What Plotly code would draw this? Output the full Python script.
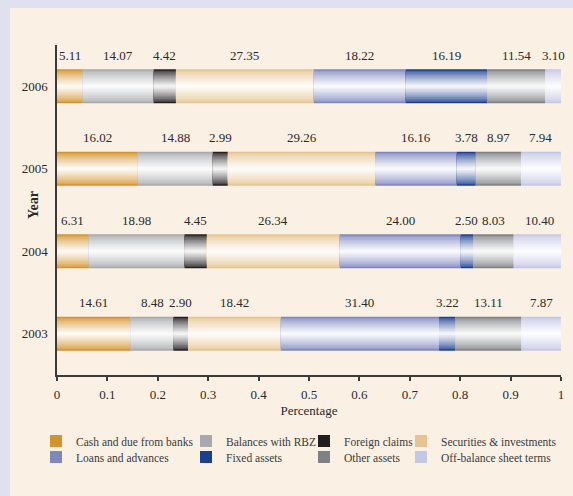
import plotly.graph_objects as go

# Asset composition of the banking sector, shares of total assets (%)
years = ["2003", "2004", "2005", "2006"]
series_names = [
    "Cash and due from banks",
    "Balances with RBZ",
    "Foreign claims",
    "Securities & investments",
    "Loans and advances",
    "Fixed assets",
    "Other assets",
    "Off-balance sheet terms",
]
cash = [14.61, 6.31, 16.02, 5.11]
rbz = [8.48, 18.98, 14.88, 14.07]
foreign = [2.90, 4.45, 2.99, 4.42]
securities = [18.42, 26.34, 29.26, 27.35]
loans = [31.40, 24.00, 16.16, 18.22]
fixed = [3.22, 2.50, 3.78, 16.19]
other = [13.11, 8.03, 8.97, 11.54]
off_balance = [7.87, 10.40, 7.94, 3.10]
series_values = [cash, rbz, foreign, securities, loans, fixed, other, off_balance]
series_colors = ["#d4932b", "#a7a9ac", "#231f20", "#e6c490",
                 "#7f87be", "#1c3f8f", "#7f8184", "#c4c7e4"]
x_ticks = [i / 10 for i in range(11)]
x_tick_labels = ["0", "0.1", "0.2", "0.3", "0.4", "0.5", "0.6", "0.7", "0.8", "0.9", "1"]

FONT = "Liberation Serif"
INK = "#2a2a2a"
CREAM = "#faf1e4"
LAVENDER = "#dfe0f0"
W, H = 573, 496

BAR_W = 0.412
N_LAYERS = 12


def mix(hex_color, t):
    """Blend a colour toward white by fraction t."""
    h = hex_color.lstrip("#")
    r, g, b = (int(h[i:i + 2], 16) for i in (0, 2, 4))
    r = round(r + (255 - r) * t)
    g = round(g + (255 - g) * t)
    b = round(b + (255 - b) * t)
    return f"rgb({r},{g},{b})"


fig = go.Figure()

# cumulative starting point of each segment, as fractions of 1
bases = []
running = [0.0] * len(years)
for vals in series_values:
    bases.append(list(running))
    running = [r + v / 100 for r, v in zip(running, vals)]

# plot-area pixel geometry
PX_L, PX_R, PX_T, PX_B = 57, 561, 45, 375


def paper_x(px):
    return (px - PX_L) / (PX_R - PX_L)


def paper_y(py):
    return (PX_B - py) / (PX_B - PX_T)


# left edge of each legend entry's text, and the two legend rows
legend_text_x = [76, 226, 344, 441]
legend_rows = [441, 457]

for i, (name, vals, color) in enumerate(zip(series_names, series_values, series_colors)):
    legend_id = "legend" if i == 0 else f"legend{i + 1}"
    widths = [v / 100 for v in vals]
    # stacked layers of narrowing bars give each segment a glossy band
    for k in range(N_LAYERS):
        frac = 1 - k / N_LAYERS
        d = (2 * (N_LAYERS - k) - 1) / (2 * N_LAYERS)
        shade = 0.97 * (1 - d) ** 0.75
        fig.add_trace(go.Bar(
            y=years,
            x=widths,
            base=bases[i],
            orientation="h",
            width=BAR_W * frac,
            marker=dict(color=color if k == 0 else mix(color, shade), line=dict(width=0)),
            name=name,
            showlegend=(k == 0),
            legend=legend_id,
            hoverinfo="skip" if k else "x+y+name",
        ))
    # value labels above each segment (y given as category index)
    for yi, (b, w, v) in enumerate(zip(bases[i], widths, vals)):
        fig.add_annotation(
            x=b + w / 2, y=yi, yshift=31, text=f"{v:.2f}", showarrow=False,
            font=dict(family=FONT, size=13, color=INK),
        )

# rotated y-axis caption, set between the tick labels
fig.add_annotation(
    xref="paper", yref="paper", x=paper_x(33), y=paper_y(205),
    xanchor="center", yanchor="middle",
    text="<b>Year</b>", textangle=-90, showarrow=False,
    font=dict(family=FONT, size=14, color=INK),
)

legend_layouts = {}
for i in range(len(series_names)):
    tx = legend_text_x[i % 4]
    row = legend_rows[i // 4]
    key = "legend" if i == 0 else f"legend{i + 1}"
    legend_layouts[key] = dict(
        xref="container", yref="container",
        x=(tx - 40) / W, y=1 - row / H, xanchor="left", yanchor="middle",
        bgcolor="rgba(0,0,0,0)", borderwidth=0,
        font=dict(family=FONT, size=11.5, color="#3a3a3a"),
    )

fig.update_layout(
    width=W, height=H,
    margin=dict(l=PX_L, r=W - PX_R, t=PX_T, b=H - PX_B, autoexpand=False),
    paper_bgcolor=LAVENDER,
    plot_bgcolor=CREAM,
    barmode="overlay",
    font=dict(family=FONT, size=13, color=INK),
    xaxis=dict(
        range=[0, 1], tickvals=x_ticks, ticktext=x_tick_labels,
        showgrid=False, zeroline=False, showline=True,
        linecolor="#3a3a3a", linewidth=1.5,
        ticks="outside", ticklen=4, tickcolor="#3a3a3a", tickwidth=1.5,
        ticklabelstandoff=3,
        tickfont=dict(family=FONT, size=13, color=INK),
        title=dict(text="Percentage", standoff=5,
                   font=dict(family=FONT, size=13, color=INK)),
    ),
    yaxis=dict(
        type="category", categoryorder="array", categoryarray=years,
        range=[-0.5, 3.5], showgrid=False, zeroline=False, showline=True,
        linecolor="#3a3a3a", linewidth=1.5, ticks="", ticklabelstandoff=5,
        tickfont=dict(family=FONT, size=13, color=INK),
    ),
    shapes=[dict(
        type="rect", xref="paper", yref="paper", layer="below",
        x0=paper_x(10), x1=paper_x(580), y0=paper_y(505), y1=paper_y(8),
        fillcolor=CREAM, line=dict(width=0),
    )],
    **legend_layouts,
)

fig.write_html("out.html")
